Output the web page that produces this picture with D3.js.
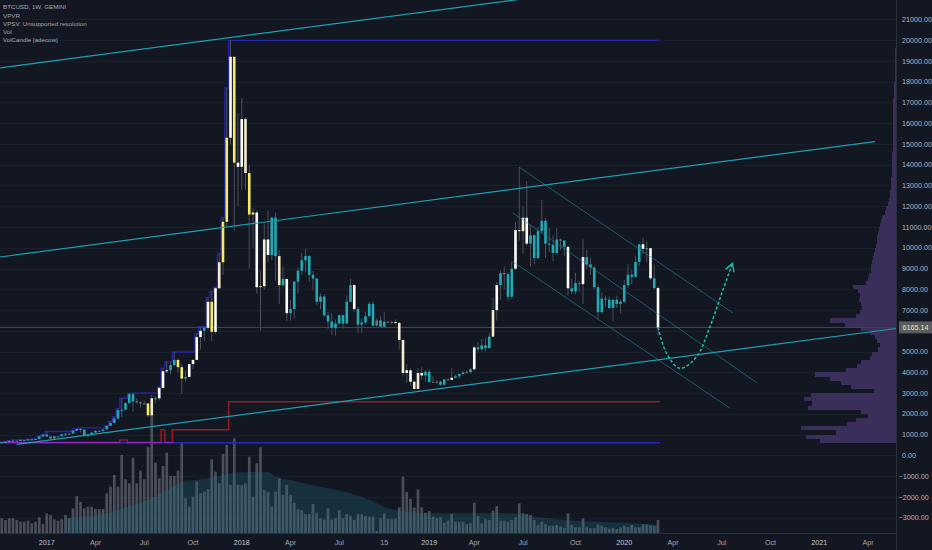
<!DOCTYPE html>
<html><head><meta charset="utf-8">
<script src="https://cdn.jsdelivr.net/npm/d3@7"></script>
<style>
html,body{margin:0;padding:0;background:#131722;}
svg{display:block;}
text{font-family:"Liberation Sans",Arial,sans-serif;}
</style></head><body>
<svg id="c" width="932" height="550"></svg>
<script>
// ---------------- DATA ----------------
const weeks = ["2016-10-10","2016-10-17","2016-10-24","2016-10-31","2016-11-07","2016-11-14","2016-11-21","2016-11-28","2016-12-05","2016-12-12","2016-12-19","2016-12-26",
"2017-01-02","2017-01-09","2017-01-16","2017-01-23","2017-01-30","2017-02-06","2017-02-13","2017-02-20","2017-02-27","2017-03-06","2017-03-13","2017-03-20","2017-03-27",
"2017-04-03","2017-04-10","2017-04-17","2017-04-24","2017-05-01","2017-05-08","2017-05-15","2017-05-22","2017-05-29","2017-06-05","2017-06-12","2017-06-19","2017-06-26",
"2017-07-03","2017-07-10","2017-07-17","2017-07-24","2017-07-31","2017-08-07","2017-08-14","2017-08-21","2017-08-28","2017-09-04","2017-09-11","2017-09-18","2017-09-25",
"2017-10-02","2017-10-09","2017-10-16","2017-10-23","2017-10-30","2017-11-06","2017-11-13","2017-11-20","2017-11-27","2017-12-04","2017-12-11","2017-12-18","2017-12-25",
"2018-01-01","2018-01-08","2018-01-15","2018-01-22","2018-01-29","2018-02-05","2018-02-12","2018-02-19","2018-02-26","2018-03-05","2018-03-12","2018-03-19","2018-03-26",
"2018-04-02","2018-04-09","2018-04-16","2018-04-23","2018-04-30","2018-05-07","2018-05-14","2018-05-21","2018-05-28","2018-06-04","2018-06-11","2018-06-18","2018-06-25",
"2018-07-02","2018-07-09","2018-07-16","2018-07-23","2018-07-30","2018-08-06","2018-08-13","2018-08-20","2018-08-27","2018-09-03","2018-09-10",
"2018-10-08","2018-10-15","2018-10-22","2018-10-29","2018-11-05","2018-11-12","2018-11-19","2018-11-26","2018-12-03","2018-12-10","2018-12-17","2018-12-24","2018-12-31",
"2019-01-07","2019-01-14","2019-01-21","2019-01-28","2019-02-04","2019-02-11","2019-02-18","2019-02-25","2019-03-04","2019-03-11","2019-03-18","2019-03-25",
"2019-04-01","2019-04-08","2019-04-15","2019-04-22","2019-04-29","2019-05-06","2019-05-13","2019-05-20","2019-05-27","2019-06-03","2019-06-10","2019-06-17","2019-06-24",
"2019-07-01","2019-07-08","2019-07-15","2019-07-22","2019-07-29","2019-08-05","2019-08-12","2019-08-19","2019-08-26","2019-09-02","2019-09-09","2019-09-16","2019-09-23",
"2019-09-30","2019-10-07","2019-10-14","2019-10-21","2019-10-28","2019-11-04","2019-11-11","2019-11-18","2019-11-25","2019-12-02","2019-12-09","2019-12-16","2019-12-23",
"2019-12-30","2020-01-06","2020-01-13","2020-01-20","2020-01-27","2020-02-03","2020-02-10","2020-02-17","2020-02-24","2020-03-02","2020-03-09"];

const open = [615,638,657,700,705,705,740,735,765,775,790,915,
1000,910,820,920,920,1020,1000,1050,1190,1270,1240,960,970,
1100,1180,1180,1250,1420,1560,1780,2180,2200,2520,2950,2600,2560,
2500,2500,1930,2750,2750,3250,4050,4100,4350,4600,4250,3700,3780,
4400,4600,5700,6000,6150,7400,5950,8050,9300,11250,15300,19200,14100,
13900,16200,13600,11600,11700,8100,8150,10400,9650,11450,9600,8200,8500,
6850,7050,8370,8900,9400,9600,8700,8520,7400,7650,6750,6450,6150,
6350,6750,6350,7400,8200,7050,6300,6400,6700,7300,6250,
6500,6200,6440,6400,6420,6380,5560,3970,4100,3550,3200,3970,3850,
4030,3530,3540,3550,3400,3660,3640,3740,3810,3920,3990,4010,
4150,5200,5120,5300,5170,5720,7000,8200,8780,8730,7640,8990,10850,
10800,11450,10200,10600,9500,10800,11300,10200,10150,9750,10400,10350,10050,
8050,7900,8300,8250,9550,9200,9050,8100,6900,7550,7500,7100,7500,
7300,7400,8200,8700,8600,9320,10170,9950,9980,8530,8060];
const high = [642,660,715,745,745,755,745,775,780,795,935,1000,
1150,920,935,930,1030,1080,1060,1200,1290,1330,1260,1060,1110,
1210,1210,1260,1420,1620,1860,2250,2760,2550,2980,3000,2750,2600,
2640,2550,2920,2850,3300,4200,4500,4480,4980,4700,4400,4100,4400,
4600,5850,6200,6200,7600,7900,8100,9700,11450,17700,19990,19200,16500,
17200,16300,14000,11900,11800,8900,11200,11800,11500,11700,9900,9100,8500,
7500,8400,9050,9750,9950,9650,8880,8550,7800,7770,6900,6850,6550,
6800,6800,7700,8500,8250,7150,6600,6900,7400,7400,6600,
6700,6900,6500,6500,6550,6450,5600,4400,4200,3600,4200,4250,4100,
4150,3800,3650,3600,3700,3700,4200,3900,3950,4050,4100,4200,
5300,5450,5600,5650,5900,7600,8350,8900,9100,8800,9350,11250,13880,
12000,13200,11100,10650,11000,12300,11450,10950,10600,10950,10450,10350,10050,
8500,8800,8400,10400,9900,9500,9100,8200,7850,7700,7650,7500,7700,
7500,8450,9200,8950,9600,9850,10500,10300,10000,9200,8150];
const low = [612,628,652,680,700,700,725,730,750,770,790,890,
880,750,820,880,920,940,990,1050,1180,1100,950,890,950,
1080,1140,1180,1250,1400,1560,1700,1850,2150,2500,2100,2480,2300,
2450,1850,1930,2500,2650,3200,3950,3900,4300,4000,2950,3550,3750,
4150,4600,5100,5500,6050,5500,5850,8000,8700,11000,15000,10800,12000,
12800,12800,9000,10000,7800,6000,8000,9300,9400,8400,7300,8100,6450,
6500,6600,7800,8700,8850,8350,7950,7250,7050,6650,6100,5800,5780,
6300,6100,6350,7400,6900,5900,5880,6300,6700,6200,6200,
6150,6150,6380,6300,6350,5100,3800,3500,3350,3150,3200,3650,3550,
3500,3500,3450,3350,3380,3580,3640,3700,3700,3850,3950,3950,
4100,4950,5000,5000,5150,5700,6500,7500,8000,7450,7550,8950,10350,
9700,10100,9100,9200,9450,10700,9500,9800,9350,9700,9900,9600,7700,
7750,7750,7900,7300,8950,8700,8000,6550,6800,7150,7050,6450,7100,
6850,7350,8050,8250,8550,9100,9700,9300,8450,8000,5800];
const close = [638,657,700,705,705,740,735,765,775,790,915,1000,
910,820,920,920,1020,1000,1050,1190,1270,1240,960,970,1100,
1180,1180,1250,1420,1560,1780,2180,2200,2520,2950,2600,2560,2500,
2500,1930,2750,2750,3250,4050,4100,4350,4600,4250,3700,3780,4400,
4600,5700,6000,6150,7400,5950,8050,9300,11250,15300,19200,14100,13900,
16200,13600,11600,11700,8100,8150,10400,9650,11450,9600,8200,8500,6850,
7050,8370,8900,9400,9600,8700,8520,7400,7650,6750,6450,6150,6350,
6750,6350,7400,8200,7050,6300,6400,6700,7300,6250,6500,
6200,6440,6400,6420,6380,5560,3970,4100,3550,3200,3970,3850,4030,
3530,3540,3550,3400,3660,3640,3740,3810,3920,3990,4010,4150,
5200,5120,5300,5170,5720,7000,8200,8780,8730,7640,8990,10850,10800,
11450,10200,10600,9500,10800,11300,10200,10150,9750,10400,10350,10050,8050,
7900,8300,8250,9550,9200,9050,8100,6900,7550,7500,7100,7500,7300,
7400,8200,8700,8600,9320,10170,9950,9980,8530,8060,6165];
const volume = [14.7,13,14.7,14.7,13,11.3,11.3,12.3,9.7,11.3,15.7,9,
19.7,18,13.7,12.3,13.7,18,14.7,24.7,37,31.3,24.7,26.3,26.3,
24,24,24,39.7,46.3,58,46.3,78,53.7,49.7,75.3,49.7,62.3,
53.7,86.3,118,70.3,54.7,67,80.3,57,57,62.3,89.7,34.7,26.3,
36.3,51.3,39.7,41.3,43.7,73.7,61.3,50,79,88,48,94.7,48,
48,49.7,76.3,36.3,69.7,85.7,43,41.3,26.3,41.3,54.7,38,48,
38,30.3,23.7,23,19,19,29,20.3,14.7,13.7,24.7,13.7,14.7,
23,14.7,19,17.3,13,18.7,18.7,17,16.3,16.3,2,
14.7,19.7,14,13.7,14.3,25.7,56.3,41,34.3,25.3,43.7,25.7,20.3,
22,16.3,14.7,15.7,10.3,12.3,19,11.3,11.3,11.3,8.7,9.7,
30.3,17,9.7,13.7,13,22.3,27,12.3,12.3,11.3,13,15.7,29.7,
19.7,19,18,13,8,11.3,9,7.3,7.3,8,6.3,5.3,19.7,
8,5.7,5.7,14.7,5.7,4.7,4.7,8.7,7.3,5.7,4.3,5,4,
5.7,7,5.7,8,5.7,5.7,8.7,8.7,7.7,7,13];
// VolCandle tone per bar, ten bars per group: T teal, W white, C cream, Y yellow, G grey
const tone = ("TTTTGTGTGT"+"TTTTTGTTGT"+"TTTTTTGTTT"+"TTTTTTGGGY"+"CTWWWTTYYT"+"WWWWTWYWCY"+"YWYWWCYYWY"+"CWTTCTWTTT"+
"TTTTTTTTTT"+"TTTTWTTTTT"+"GTTGGWCCWW"+"CCWTTGGTTG"+"WTTTGTWTTT"+"TCWTTTTWCC"+"WTTTTTTTTT"+"TWTTGWTTTT"+"TTTTTTTTTT"+"TWTWTW").split("");
// volume moving average
const volMA = [["2017-02-06",15],["2017-04-10",18],["2017-05-15",23],["2017-06-12",28],["2017-07-17",34.7],["2017-08-14",43],
["2017-09-11",50.7],["2017-10-16",53.7],["2017-11-13",56.3],["2017-12-18",60.3],["2018-01-15",61],["2018-02-19",60.7],
["2018-03-05",56.3],["2018-04-02",53],["2018-04-23",50.3],["2018-05-21",47],["2018-06-18",44],["2018-07-23",39.7],
["2018-08-27",33],["2018-10-22",24.7],["2018-11-26",21.3],["2018-12-31",19.7],["2019-03-04",19.7],["2019-05-06",20],
["2019-06-24",19],["2019-07-29",15.7],["2019-09-16",13],["2019-11-18",11.3],["2020-01-20",9.7],["2020-03-09",8]];
// stepped support level (red)
const redLevels = [["2016-10-10",620],["2017-05-22",740],["2017-06-05",620],["2017-08-07",1230],["2017-08-14",620],["2017-08-28",1230],["2017-12-11",2580]];
// visible-range volume profile, rows of 200 USD from 600
const vpFrom = 600, vpRow = 200;
const vpVolume = [76,90,60,95,49,40,28,35,88,84,92,85,22,45,55,66,81,50,39,35,26,24,18,16,19,21,26,35,51,66,
40,36,34,35,37,36,38,43,30,28,27,25,25,24,23,22,21,20,19,19,18,17,16,15,14,11,10,8,7,6,
6,5,5,5,4.5,4.5,4,4,4,4,3.5,3.5,3.5,3.5,3.5,3.5,3.5,3.2,3.2,3,3,2.8,2.6,2.4,2.2,2,1.8,1.5,1.4,1.2,
1,0.9,0.8,0.7,0.6,0.5,0.5];
const priceTicks = [-3000,-2000,-1000,0,1000,2000,3000,4000,5000,6000,7000,8000,9000,10000,11000,12000,13000,14000,15000,16000,17000,18000,19000,20000,21000];
const timeTicks = [["2017-01-02","2017",1],["2017-04-03","Apr",0],["2017-07-03","Jul",0],["2017-10-02","Oct",0],["2018-01-01","2018",1],["2018-04-02","Apr",0],
["2018-07-02","Jul",0],["2018-10-15","15",0],["2019-01-07","2019",1],["2019-04-01","Apr",0],["2019-07-01","Jul",0],["2019-10-07","Oct",0],["2020-01-06","2020",1],
["2020-04-06","Apr",0],["2020-07-06","Jul",0],["2020-10-05","Oct",0],["2021-01-04","2021",1],["2021-04-05","Apr",0]];
// drawings: [date, price] anchors
const ascChannel = [[["2016-11-07",535],["2021-05-30",6122]],[["2016-10-07",9557],["2021-04-18",15116]],[["2016-10-07",18661],["2019-06-24",21960]]];
const descChannel = [[["2019-06-24",13880],["2020-07-27",6860]],[["2019-06-12",11680],["2020-09-10",3490]],[["2019-06-12",9330],["2020-07-21",2280]]];
const forecast = [["2020-03-09",6165],["2020-03-25",4918],["2020-04-19",4196],["2020-05-20",4754],["2020-06-14",6199],["2020-07-06",7808],["2020-07-26",9250]];
const lastPrice = 6165.14;
const legend = ["BTCUSD, 1W, GEMINI","VPVR","VPSV: Unsupported resolution","Vol","VolCandle [adecow]"];

// ---------------- SCALES ----------------
const W = 932, H = 550, PR = 896, PB = 533;
const svg = d3.select("#c");
const parse = d3.utcParse("%Y-%m-%d");
const wk = weeks.map(parse);
const n = weeks.length, WEEK = 7*864e5;
const dateToIdx = d3.scaleUtc().domain(wk).range(wk.map((d,i)=>i));
function idxOf(s){const d=parse(s); if(d>wk[n-1]) return n-1+(d-wk[n-1])/WEEK; if(d<wk[0]) return (d-wk[0])/WEEK; return dateToIdx(d);}
const x = d3.scaleLinear().domain([0,n-1]).range([1.75,658]);
const xd = s => x(idxOf(s));
const step = x(1)-x(0);
const y = d3.scaleLinear().domain([0,21000]).range([455.4,19.4]);
const yv = d3.scaleLinear().domain([0,118]).range([PB,415]);
const vpw = d3.scaleLinear().domain([0,100]).range([0,100]);

svg.append("rect").attr("width",W).attr("height",H).attr("fill","#131722");
const defs = svg.append("defs");
defs.append("clipPath").attr("id","pane").append("rect").attr("width",PR).attr("height",PB);
const pane = svg.append("g").attr("clip-path","url(#pane)").style("isolation","isolate");

// grid
pane.append("g").selectAll("line").data(priceTicks).join("line")
 .attr("x1",0).attr("x2",PR).attr("y1",d=>Math.round(y(d))+0.5).attr("y2",d=>Math.round(y(d))+0.5)
 .attr("stroke","#1b1f2b").attr("stroke-width",1);

// volume profile
pane.append("g").selectAll("rect").data(vpVolume).join("rect")
 .attr("x",d=>PR-vpw(d)).attr("width",d=>vpw(d))
 .attr("y",(d,i)=>y(vpFrom+(i+1)*vpRow)).attr("height",(d,i)=>y(vpFrom+i*vpRow)-y(vpFrom+(i+1)*vpRow))
 .attr("fill","#392f5a").attr("shape-rendering","crispEdges");

// volume bars
const bars = d3.range(n);
pane.append("g").selectAll("rect").data(bars).join("rect")
 .attr("x",i=>x(i)-1.35).attr("width",2.7).attr("y",i=>yv(volume[i])).attr("height",i=>PB-yv(volume[i]))
 .attr("fill","rgba(140,143,155,0.46)");
// volume MA area
pane.append("path").datum(volMA)
 .attr("d",d3.area().x(d=>xd(d[0])).y0(PB).y1(d=>yv(d[1])).curve(d3.curveMonotoneX))
 .attr("fill","rgba(35,120,135,0.27)");

// step lines
const edge = i => x(i)-step/2;
function stepPath(vals){const pts=vals.map((v,i)=>[edge(i),y(v)]); pts.push([edge(n-1)+step,y(vals[n-1])]);
 return d3.line().curve(d3.curveStepAfter)(pts);}
let mx=-Infinity, mn=Infinity;
const runHigh = high.map(h=>mx=Math.max(mx,h));
const runLow = low.map(l=>mn=Math.min(mn,l));
const redIdx = redLevels.map(r=>[Math.round(idxOf(r[0])),r[1]]);
const redVals = bars.map(i=>{let v=redIdx[0][1]; for(const r of redIdx) if(i>=r[0]) v=r[1]; return v;});
pane.append("path").attr("d",stepPath(runHigh)).attr("fill","none").attr("stroke","#2424b0").attr("stroke-width",1.3);
pane.append("path").attr("d",stepPath(runLow)).attr("fill","none").attr("stroke","#2626c4").attr("stroke-width",1.5);
pane.append("path").attr("d",stepPath(redVals)).attr("fill","none").attr("stroke","#941c22").attr("stroke-width",1.5)
 .style("mix-blend-mode","lighten");

// last price line
pane.append("line").attr("x1",0).attr("x2",PR).attr("y1",y(lastPrice)).attr("y2",y(lastPrice))
 .attr("stroke","#434852").attr("stroke-width",1);

// candles
const toneColor = {T:"#22a9b4",W:"#ffffff",C:"#f3eccd",Y:"#f6ec5e",G:"#6d717c"};
const cg = pane.append("g");
cg.selectAll("line").data(bars).join("line")
 .attr("x1",i=>x(i)).attr("x2",i=>x(i)).attr("y1",i=>y(high[i])).attr("y2",i=>y(low[i]))
 .attr("stroke","#4b4f5a").attr("stroke-width",1);
cg.selectAll("rect").data(bars).join("rect")
 .attr("x",i=>x(i)-1.3).attr("width",2.6)
 .attr("y",i=>y(Math.max(open[i],close[i])))
 .attr("height",i=>Math.max(1,Math.abs(y(open[i])-y(close[i]))))
 .attr("fill",i=>toneColor[tone[i]]||toneColor.T);

// ascending channel
pane.append("g").selectAll("line").data(ascChannel).join("line")
 .attr("x1",d=>xd(d[0][0])).attr("y1",d=>y(d[0][1])).attr("x2",d=>xd(d[1][0])).attr("y2",d=>y(d[1][1]))
 .attr("stroke","#1f9eaf").attr("stroke-width",1.2);
// descending channel
pane.append("g").selectAll("line").data(descChannel).join("line")
 .attr("x1",d=>xd(d[0][0])).attr("y1",d=>y(d[0][1])).attr("x2",d=>xd(d[1][0])).attr("y2",d=>y(d[1][1]))
 .attr("stroke","rgba(34,150,168,0.55)").attr("stroke-width",1);

// forecast curve with arrow
defs.append("marker").attr("id","arr").attr("viewBox","-10 -6 12 12").attr("refX",0).attr("refY",0)
 .attr("markerWidth",12).attr("markerHeight",12).attr("markerUnits","userSpaceOnUse").attr("orient","auto")
 .append("path").attr("d","M-8,-4.5L0,0L-8,4.5").attr("fill","none").attr("stroke","#21bba8").attr("stroke-width",1.4);
pane.append("path").datum(forecast)
 .attr("d",d3.line().x(d=>xd(d[0])).y(d=>y(d[1])).curve(d3.curveCatmullRom.alpha(0.5)))
 .attr("fill","none").attr("stroke","#21bba8").attr("stroke-width",1.5).attr("stroke-dasharray","3,2")
 .attr("marker-end","url(#arr)");

// axes frame
svg.append("line").attr("x1",PR+0.5).attr("x2",PR+0.5).attr("y1",0).attr("y2",H).attr("stroke","#2a2e39");
svg.append("line").attr("x1",0).attr("x2",PR).attr("y1",PB+0.5).attr("y2",PB+0.5).attr("stroke","#2a2e39");

// price axis labels (labels hidden behind the last-price tag are skipped, as on the original)
const fmt = d3.format(".2f");
const visibleTicks = priceTicks.filter(d=>Math.abs(y(d)-y(lastPrice))>9);
svg.append("g").selectAll("text").data(visibleTicks).join("text")
 .attr("x",d=>d<0?898.6:902).attr("y",d=>y(d)+2.6).attr("font-size",7.2).attr("fill","#b2b5be")
 .text(d=>fmt(d));
// last price tag
svg.append("rect").attr("x",899).attr("y",y(lastPrice)-6).attr("width",33).attr("height",12).attr("fill","#585c63");
svg.append("text").attr("x",902.5).attr("y",y(lastPrice)+2.6).attr("font-size",7.2).attr("fill","#f4e7a6").text(fmt(lastPrice));

// time axis labels
svg.append("g").selectAll("text").data(timeTicks).join("text")
 .attr("x",d=>xd(d[0])).attr("y",545).attr("text-anchor","middle").attr("font-size",7.2)
 .attr("fill",d=>d[2]?"#c3c6cd":"#a3a6af").text(d=>d[1]);

// legend
svg.append("g").selectAll("text").data(legend).join("text")
 .attr("x",3).attr("y",(d,i)=>9.3+i*8.2).attr("font-size",6.2).attr("fill","#a5a8b1").text(d=>d);
</script>
</body></html>
